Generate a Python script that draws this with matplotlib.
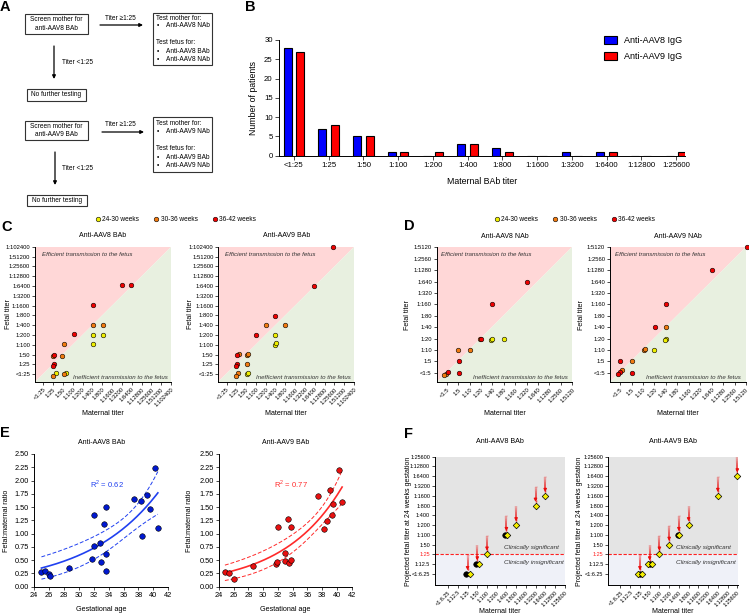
import numpy as np
import matplotlib
matplotlib.use('Agg')
import matplotlib.pyplot as plt
from matplotlib.patches import Rectangle
from matplotlib.collections import LineCollection
from matplotlib.lines import Line2D

plt.rcParams['font.family'] = ['Liberation Sans', 'DejaVu Sans']
plt.rcParams['axes.linewidth'] = 0.7
plt.rcParams['mathtext.fontset'] = 'custom'
plt.rcParams['mathtext.rm'] = 'Liberation Sans'

# ---------------- data ----------------
b_categories = ['<1:25', '1:25', '1:50', '1:100', '1:200', '1:400', '1:800',
                '1:1600', '1:3200', '1:6400', '1:12800', '1:25600']
b_aav8 = [28, 7, 5, 1, 0, 3, 2, 0, 1, 1, 0, 0]
b_aav9 = [27, 8, 5, 1, 1, 3, 1, 0, 0, 1, 0, 1]

bab_titers = ['<1:25', '1:25', '1:50', '1:100', '1:200', '1:400', '1:800', '1:1600',
              '1:3200', '1:6400', '1:12800', '1:25600', '1:51200', '1:102400']
nab_titers = ['<1:5', '1:5', '1:10', '1:20', '1:40', '1:80', '1:160', '1:320',
              '1:640', '1:1280', '1:2560', '1:5120']
proj_titers = ['<1:6.25', '1:12.5', '1:25', '1:50', '1:100', '1:200', '1:400', '1:800',
               '1:1600', '1:3200', '1:6400', '1:12800', '1:25600']

groups = ['24-30 weeks', '30-36 weeks', '36-42 weeks']
group_colors = ['#EEEE00', '#F07A10', '#EE0000']

# Panel C (titer index positions, slightly jittered as in the figure)
c8_m = [[5.05, 6.06, 5.05, 1.28, 2.29],
        [5.05, 6.06, 2.09, 1.95, 0.94, 0.94, 2.12],
        [7.98, 8.96, 5.05, 3.1, 1.11, 1.04, 0.94]]
c8_f = [[4.01, 4.01, 3.03, 0.14, 0.14],
        [5.03, 5.03, 3.03, 1.84, 1.84, -0.2, 0.0],
        [9.05, 9.05, 7.04, 4.05, 2.0, 1.02, 0.85]]
c9_m = [[4.98, 4.98, 5.08, 2.12, 2.22],
        [3.97, 5.93, 1.25, 2.05, 2.22, 2.05, 1.14, 1.0],
        [10.85, 8.89, 4.98, 3.03, 1.08, 1.08, 0.94]]
c9_f = [[3.98, 2.99, 3.13, 0.0, 0.14],
        [4.97, 4.97, 2.1, 2.0, 2.1, 0.99, 0.14, -0.2],
        [12.93, 8.98, 5.95, 3.98, 1.97, 0.99, 0.85]]

# Panel D
d8_m = [[3.9, 4.0, 5.0],
        [1.0, 2.0, 2.95, -0.05, -0.2],
        [7.05, 4.0, 1.05, 1.05, 3.0, 0.15]]
d8_f = [[2.9, 3.0, 3.0],
        [2.0, 2.0, 2.94, -0.1, -0.2],
        [8.0, 6.0, 1.0, 0.0, 3.0, 0.05]]
d9_m = [[4.0, 3.9, 3.0],
        [4.0, 2.05, 2.16, 1.05, 0.18],
        [11.05, 8.07, 4.04, 3.04, 0.0, 1.0, 0.0, -0.18]]
d9_f = [[3.0, 2.9, 2.0],
        [4.0, 2.0, 2.1, 1.0, 0.2],
        [11.0, 9.03, 6.02, 4.0, 1.0, 0.0, 0.05, -0.15]]

# Panel E
e8_age = [25.0, 25.5, 26.0, 26.1, 28.7, 31.8, 32.0, 32.0, 32.9, 33.0, 33.4, 33.6,
          33.7, 33.7, 37.4, 38.3, 38.5, 39.1, 39.5, 40.2, 40.6]
e8_ratio = [0.28, 0.29, 0.24, 0.21, 0.36, 0.53, 1.35, 0.77, 0.83, 0.46, 1.19, 0.62,
            1.50, 0.30, 1.65, 1.61, 0.96, 1.72, 1.46, 2.24, 1.11]
e9_age = [24.8, 25.4, 26.0, 28.6, 31.7, 31.9, 32.0, 32.9, 33.0, 33.4, 33.5, 33.7,
          33.7, 37.4, 38.3, 38.6, 39.1, 39.3, 39.5, 40.3, 40.7]
e9_ratio = [0.28, 0.26, 0.14, 0.39, 0.43, 0.47, 1.13, 0.63, 0.48, 1.27, 0.44, 0.51,
            1.12, 1.70, 1.09, 1.23, 1.82, 1.36, 1.56, 2.19, 1.60]

# Panel F: (maternal index, projected fetal index)
f8_yel_m = [2.2, 3.2, 4.0, 6.05, 7.0, 9.0, 10.0]
f8_yel_p = [0, 1, 2, 4, 5, 7, 8]
f8_blk_m = [1.85, 2.85, 5.9]
f8_blk_p = [0, 1, 4]
f9_yel_m = [1.8, 2.2, 2.8, 3.2, 4.0, 5.0, 6.05, 7.0, 10.0, 12.0]
f9_yel_p = [0, 0, 1, 1, 2, 3, 4, 5, 8, 10]
f9_blk_m = [2.0, 3.0, 5.9]
f9_blk_p = [0, 1, 4]
f8_arrow_m = [2, 3, 4, 6, 7, 9, 10]
f8_arrow_p = [0, 1, 2, 4, 5, 7, 8]
f9_arrow_m = [2, 3, 4, 5, 6, 7, 10, 12]
f9_arrow_p = [0, 1, 2, 3, 4, 5, 8, 10]

# ---------------- figure ----------------
W, H = 749, 615
fig = plt.figure(figsize=(W / 100, H / 100), dpi=100)


def add_ax(l, t, r, b):
    return fig.add_axes([l / W, 1 - b / H, (r - l) / W, (b - t) / H])


ov = fig.add_axes([0, 0, 1, 1])
ov.set_xlim(0, W)
ov.set_ylim(H, 0)
ov.axis('off')

for lab, x, y in [('A', 0, 7), ('B', 245, 7), ('C', 1, 227), ('D', 404, 226),
                  ('E', 0, 433), ('F', 404, 434)]:
    ov.text(x, y, lab, fontsize=10.5, fontweight='bold', va='center', ha='left')

# ---------------- Panel A ----------------
FA = 4.7


def box(x0, y0, x1, y1):
    ov.add_patch(Rectangle((x0, y0), x1 - x0, y1 - y0, fill=False, lw=0.8, ec='#333333'))


def arrow(x0, y0, x1, y1):
    ov.annotate('', xy=(x1, y1), xytext=(x0, y0),
                arrowprops=dict(arrowstyle='-|>', lw=0.9, color='black',
                                mutation_scale=5, shrinkA=0, shrinkB=0))


groupsA = [
    dict(v='8', b1=(25, 14, 88, 34), ar=(100, 25, 143), tt=(120.5, 18), rb=(153, 13, 212, 65),
         rl=[18.5, 25.5, 43, 51.3, 59.7], dn=(54, 46, 79), dt=(62, 62), nb=(27, 89, 86, 100.5)),
    dict(v='9', b1=(25, 121, 88, 140), ar=(102, 132, 144), tt=(120.7, 124), rb=(153, 117, 212, 172),
         rl=[123.3, 131.7, 149, 157.7, 165.7], dn=(55, 152, 185), dt=(62, 168.3), nb=(27, 194.5, 87, 206)),
]
for g in groupsA:
    v = g['v']
    box(*g['b1'])
    cx = (g['b1'][0] + g['b1'][2]) / 2
    cy = (g['b1'][1] + g['b1'][3]) / 2
    ov.text(cx, cy, 'Screen mother for\nanti-AAV%s BAb' % v, ha='center', va='center',
            fontsize=FA, linespacing=1.35)
    arrow(g['ar'][0], g['ar'][1], g['ar'][2], g['ar'][1])
    ov.text(g['tt'][0], g['tt'][1], 'Titer \u22651:25', ha='center', va='center', fontsize=FA)
    box(*g['rb'])
    xl = g['rb'][0] + 3.5
    rl = g['rl']
    ov.text(xl, rl[0], 'Test mother for:', fontsize=FA, va='center')
    ov.text(xl + 0.5, rl[1], '\u2022', fontsize=FA, va='center')
    ov.text(xl + 9, rl[1], 'Anti-AAV%s NAb' % v, fontsize=FA, va='center')
    ov.text(xl, rl[2], 'Test fetus for:', fontsize=FA, va='center')
    ov.text(xl + 0.5, rl[3], '\u2022', fontsize=FA, va='center')
    ov.text(xl + 9, rl[3], 'Anti-AAV%s BAb' % v, fontsize=FA, va='center')
    ov.text(xl + 0.5, rl[4], '\u2022', fontsize=FA, va='center')
    ov.text(xl + 9, rl[4], 'Anti-AAV%s NAb' % v, fontsize=FA, va='center')
    arrow(g['dn'][0], g['dn'][1], g['dn'][0], g['dn'][2])
    ov.text(g['dt'][0], g['dt'][1], 'Titer <1:25', fontsize=FA, va='center')
    box(*g['nb'])
    ov.text((g['nb'][0] + g['nb'][2]) / 2, (g['nb'][1] + g['nb'][3]) / 2, 'No further testing',
            ha='center', va='center', fontsize=FA)


def style_axes(ax, fs):
    for s in ['top', 'right']:
        ax.spines[s].set_visible(False)
    ax.tick_params(direction='out', length=2, width=0.5, labelsize=fs, pad=1.5)


def set_labels(ax, xl, yl, xpos, ypos, fs):
    ax.set_xlabel(xl, fontsize=fs)
    ax.set_ylabel(yl, fontsize=fs)
    ax.xaxis.label.set_va('center')
    ax.yaxis.label.set_va('center')
    ax.xaxis.set_label_coords(0.5, xpos)
    ax.yaxis.set_label_coords(ypos, 0.5)


# ---------------- Panel B ----------------
axB = add_ax(279, 40, 685, 155.7)
xb = np.arange(len(b_categories))
axB.bar(xb - 0.18, b_aav8, width=0.23, color='#0000FF', edgecolor='black', lw=0.8,
        label='Anti-AAV8 IgG')
axB.bar(xb + 0.18, b_aav9, width=0.23, color='#FF0000', edgecolor='black', lw=0.8,
        label='Anti-AAV9 IgG')
axB.set_xlim(-0.43, 11.26)
axB.set_ylim(0, 30)
axB.set_yticks(range(0, 31, 5))
axB.set_xticks(xb)
axB.set_xticklabels(b_categories)
style_axes(axB, 5.6)
axB.tick_params(length=3)
set_labels(axB, 'Maternal BAb titer', 'Number of patients', -0.227, -0.062, 6.3)
axB.legend(loc='upper left', bbox_to_anchor=(604 / W, 1 - 36 / H), bbox_transform=fig.transFigure,
           frameon=False, fontsize=6.5, handlelength=1.45, handleheight=1.0,
           labelspacing=0.75, handletextpad=0.8, borderpad=0, borderaxespad=0)


# ---------------- Panels C & D ----------------
def titer_scatter(box_px, mlist, flist, ticks, lim, title, txt_eff_x, txt_ineff_x):
    ax = add_ax(*box_px)
    ax.set_xlim(lim[0], lim[1])
    ax.set_ylim(lim[2], lim[3])
    ax.fill([0, 0, 1], [0, 1, 1], transform=ax.transAxes, color='#FFD7D7', lw=0, zorder=0)
    ax.fill([0, 1, 1], [0, 0, 1], transform=ax.transAxes, color='#E8F0E0', lw=0, zorder=0)
    for ms, fs, c in zip(mlist, flist, group_colors):
        ax.scatter(ms, fs, s=11, c=c, edgecolors='black', linewidths=0.4, zorder=3,
                   clip_on=False)
    idx = np.arange(len(ticks))
    ax.set_xticks(idx)
    ax.set_xticklabels(ticks, rotation=45, ha='right', rotation_mode='anchor')
    ax.set_yticks(idx)
    ax.set_yticklabels(ticks)
    style_axes(ax, 4.2)
    ax.text(txt_eff_x, 0.944, 'Efficient transmission to the fetus', transform=ax.transAxes,
            fontsize=4.4, style='italic', color='#333333', va='center', ha='left')
    ax.text(txt_ineff_x, 0.035, 'Inefficient transmission to the fetus', transform=ax.transAxes,
            fontsize=4.4, style='italic', color='#333333', va='center', ha='right')
    ax.set_title(title, fontsize=5.0, pad=7)
    return ax


axC1 = titer_scatter((35, 246.7, 171, 382), c8_m, c8_f, bab_titers, (-0.85, 13, -0.8, 13),
                     'Anti-AAV8 BAb', 0.05, 0.978)
set_labels(axC1, 'Maternal titer', 'Fetal titer', -0.231, -0.195, 5.1)
axC2 = titer_scatter((218.3, 246.7, 354, 382), c9_m, c9_f, bab_titers, (-0.85, 13, -0.8, 13),
                     'Anti-AAV9 BAb', 0.05, 0.975)
set_labels(axC2, 'Maternal titer', 'Fetal titer', -0.231, -0.205, 5.1)
axD1 = titer_scatter((436.7, 247.3, 572.3, 382.3), d8_m, d8_f, nab_titers, (-0.88, 11, -0.84, 11),
                     'Anti-AAV8 NAb', 0.035, 0.966)
set_labels(axD1, 'Maternal titer', 'Fetal titer', -0.231, -0.212, 5.1)
axD2 = titer_scatter((610, 247.3, 746, 382.3), d9_m, d9_f, nab_titers, (-0.88, 11, -0.84, 11),
                     'Anti-AAV9 NAb', 0.037, 0.96)
set_labels(axD2, 'Maternal titer', 'Fetal titer', -0.231, -0.212, 5.1)

handles = [Line2D([], [], ls='', marker='o', ms=3.3, mfc=c, mec='black', mew=0.4)
           for c in group_colors]
for ax, cx in [(axC1, 176), (axD1, 575)]:
    ax.legend(handles, groups, loc='center', bbox_to_anchor=(cx / W, 1 - 220 / H),
              bbox_transform=fig.transFigure, ncol=3, frameon=False, fontsize=4.7,
              handlelength=0.6, handletextpad=0.4, columnspacing=2.3, borderpad=0)


# ---------------- Panel E ----------------
def exp_fit(x, y):
    x = np.asarray(x, float)
    y = np.asarray(y, float)
    x0 = 24.0
    b, la = np.polyfit(x - x0, np.log(y), 1)
    a = np.exp(la)
    for _ in range(100):
        e = np.exp(b * (x - x0))
        J = np.column_stack([e, a * (x - x0) * e])
        r = y - a * e
        d = np.linalg.lstsq(J, r, rcond=None)[0]
        a += d[0]
        b += d[1]
    e = np.exp(b * (x - x0))
    J = np.column_stack([e, a * (x - x0) * e])
    r = y - a * e
    dof = len(x) - 2
    s2 = (r @ r) / dof
    cov = s2 * np.linalg.inv(J.T @ J)
    xx = np.linspace(x.min(), x.max(), 200)
    ee = np.exp(b * (xx - x0))
    ff = a * ee
    G = np.column_stack([ee, a * (xx - x0) * ee])
    se = np.sqrt(np.einsum('ij,jk,ik->i', G, cov, G))
    t = 2.093
    r2 = 1 - (r @ r) / np.sum((y - y.mean()) ** 2)
    return xx, ff, ff - t * se, ff + t * se, r2


def e_panel(box_px, age, ratio, mcol, lcol, title, ylabx):
    ax = add_ax(*box_px)
    xx, ff, lo, hi, r2 = exp_fit(age, ratio)
    ax.plot(xx, ff, color=lcol, lw=1.2, zorder=2)
    ax.plot(xx, lo, color=lcol, lw=0.7, ls=(0, (4, 2)), zorder=2)
    ax.plot(xx, hi, color=lcol, lw=0.7, ls=(0, (4, 2)), zorder=2)
    ax.scatter(age, ratio, s=16, c=mcol, edgecolors='black', linewidths=0.4, zorder=3,
               clip_on=False)
    ax.set_xlim(24, 42)
    ax.set_ylim(0, 2.5)
    ax.set_xticks(range(24, 43, 2))
    ax.set_yticks(np.arange(0, 2.51, 0.25))
    ax.set_yticklabels(['%.2f' % v for v in np.arange(0, 2.51, 0.25)])
    style_axes(ax, 5.3)
    ax.set_title(title, fontsize=5.0, pad=7)
    ax.text(0.545, 0.775, 'R$^2$ = %.2f' % r2, transform=ax.transAxes, color=lcol,
            fontsize=5.5, ha='center', va='center')
    set_labels(ax, 'Gestational age', 'Fetal:maternal ratio', -0.17, ylabx, 5.2)
    return ax


e_panel((34, 454, 168.3, 586.7), e8_age, e8_ratio, '#0018D0', '#2040F0', 'Anti-AAV8 BAb', -0.208)
e_panel((219, 454, 351.7, 586.7), e9_age, e9_ratio, '#E81010', '#FF2A2A', 'Anti-AAV9 BAb', -0.219)


# ---------------- Panel F ----------------
def grad_arrow(ax, x, y0, y1):
    n = 24
    ys = np.linspace(y0, y1, n + 1)
    segs = [[(x, ys[i]), (x, ys[i + 1])] for i in range(n)]
    alphas = np.linspace(0.25, 1.0, n)
    cols = [(0.92, 0.05, 0.05, a) for a in alphas]
    lc = LineCollection(segs, colors=cols, linewidths=np.linspace(1.8, 1.0, n), zorder=4,
                        capstyle='butt')
    ax.add_collection(lc)
    ax.annotate('', xy=(x, y1), xytext=(x, y1 + 0.35),
                arrowprops=dict(arrowstyle='-|>', color=(0.92, 0.05, 0.05), lw=0.8,
                                mutation_scale=4.5, shrinkA=0, shrinkB=0), zorder=5)


def f_panel(box_px, ym, yp, bm, bp, am, ap, title, ylabx, xlim0):
    ax = add_ax(*box_px)
    ax.set_xlim(xlim0, 12.04)
    ax.set_ylim(-1.12, 12)
    ax.axhspan(2, 12, color='#E4E4E4', lw=0, zorder=0)
    ax.axhspan(-1.12, 2, color='#EFF1F8', lw=0, zorder=0)
    ax.axhline(2, color='#FF2020', lw=0.8, ls=(0, (3, 1.5)), zorder=1)
    ax.text(5.75, 2.68, 'Clinically significant', fontsize=4.6, style='italic',
            color='#333333', va='center')
    ax.text(5.75, 1.23, 'Clinically insignificant', fontsize=4.6, style='italic',
            color='#333333', va='center')
    for m, p in zip(am, ap):
        grad_arrow(ax, m, m, p + 0.38)
    ax.scatter(bm, bp, s=16, c='black', edgecolors='black', linewidths=0.4, zorder=6)
    ax.scatter(ym, yp, s=11, marker='D', c='#F5F000', edgecolors='black', linewidths=0.5,
               zorder=7, clip_on=False)
    idx = np.arange(len(proj_titers))
    ax.set_xticks(idx)
    ax.set_xticklabels(proj_titers, rotation=45, ha='right', rotation_mode='anchor')
    ax.set_yticks(idx)
    ax.set_yticklabels(proj_titers)
    style_axes(ax, 4.0)
    ax.get_yticklabels()[2].set_color('#FF2020')
    ax.set_title(title, fontsize=5.1, pad=10)
    set_labels(ax, 'Maternal titer', 'Projected fetal titer at 24 weeks gestation', -0.208,
               ylabx, 5.0)
    return ax


f_panel((435, 456.7, 565, 585), f8_yel_m, f8_yel_p, f8_blk_m, f8_blk_p, f8_arrow_m, f8_arrow_p,
        'Anti-AAV8 BAb', -0.205, -1.36)
f_panel((608.3, 456.7, 737.7, 585), f9_yel_m, f9_yel_p, f9_blk_m, f9_blk_p, f9_arrow_m, f9_arrow_p,
        'Anti-AAV9 BAb', -0.219, -1.25)

fig.savefig('out.png', dpi=100)
